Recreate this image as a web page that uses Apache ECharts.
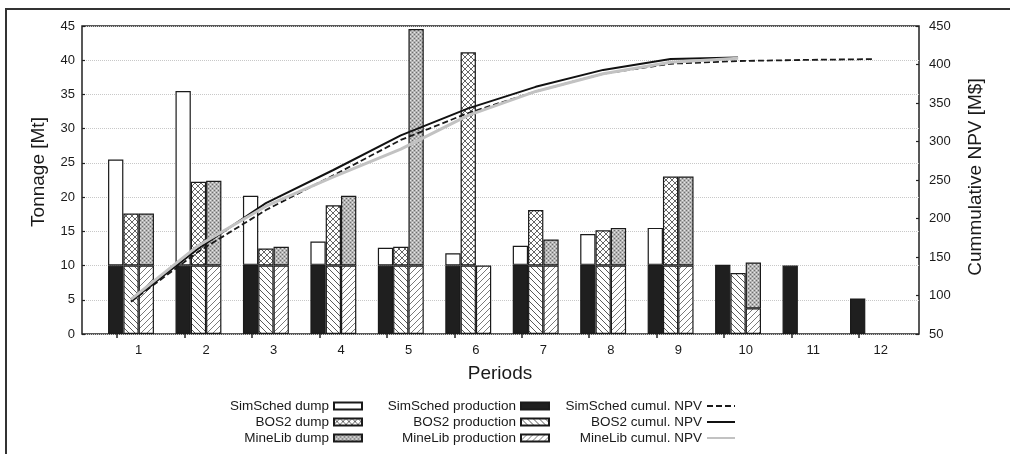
<!DOCTYPE html>
<html>
<head>
<meta charset="utf-8">
<script src="https://cdn.jsdelivr.net/npm/echarts@6/dist/echarts.min.js"></script>
<style>
html,body{margin:0;padding:0;background:#fff;}
#chart{width:1010px;height:454px;}
</style>
</head>
<body>
<div id="chart"></div>
<script>
// ---- data ----
var periods = ['1','2','3','4','5','6','7','8','9','10','11','12'];
var simProd  = [10, 10, 10.1, 10.1, 10, 10, 10.1, 10.1, 10.1, 10.1, 10, 5.2];
var simDump  = [15.5, 25.5, 10.1, 3.4, 2.6, 1.8, 2.8, 4.5, 5.4, null, null, null];
var bosProd  = [10, 10, 10, 10, 10, 10, 10, 10, 10, 8.9, null, null];
var bosDump  = [7.6, 12.25, 2.5, 8.8, 2.75, 31.15, 8.1, 5.15, 13.0, null, null, null];
var mineProd = [10, 10, 10, 10, 10, 10, 10, 10, 10, 3.75, null, null];
var mineDump = [7.6, 12.4, 2.75, 10.2, 34.55, null, 3.8, 5.5, 13.0, 6.7, null, null];
var simNPV   = [92, 157, 211, 256, 302, 337, 365, 388, 401, 404.5, 406, 407];
var bosNPV   = [93, 161, 220, 263, 308, 343, 371, 393, 407, 409, null, null];
var mineNPV  = [95, 165, 216, 254, 290, 334, 365, 388, 403, 408, null, null];
var tonTicks = {min: 0, max: 45, interval: 5};
var npvTicks = {min: 50, max: 450, interval: 50};

// ---- patterns ----
function tile(size, draw) {
  var c = document.createElement('canvas');
  c.width = size; c.height = size;
  var g = c.getContext('2d');
  draw(g, size);
  return {image: c, repeat: 'repeat'};
}
var crossHatch = tile(6, function (g, s) {
  g.fillStyle = '#fff'; g.fillRect(0, 0, s, s);
  g.strokeStyle = '#555'; g.lineWidth = 0.9;
  g.beginPath();
  g.moveTo(-1, -1); g.lineTo(s + 1, s + 1);
  g.moveTo(s + 1, -1); g.lineTo(-1, s + 1);
  g.stroke();
});
var dotted = tile(4, function (g, s) {
  g.fillStyle = '#b4b4b4'; g.fillRect(0, 0, s, s);
  g.fillStyle = '#6e6e6e';
  g.fillRect(0, 0, 1, 1); g.fillRect(2, 2, 1, 1);
  g.fillStyle = '#e6e6e6';
  g.fillRect(2, 0, 1, 1); g.fillRect(0, 2, 1, 1);
});
var backslash = tile(6, function (g, s) {
  g.fillStyle = '#fff'; g.fillRect(0, 0, s, s);
  g.strokeStyle = '#5a5a5a'; g.lineWidth = 1;
  g.beginPath();
  g.moveTo(-1, -1); g.lineTo(s + 1, s + 1);
  g.moveTo(-1, s - 1); g.lineTo(1, s + 1);
  g.moveTo(s - 1, -1); g.lineTo(s + 1, 1);
  g.stroke();
});
var slash = tile(6, function (g, s) {
  g.fillStyle = '#fff'; g.fillRect(0, 0, s, s);
  g.strokeStyle = '#7a7a7a'; g.lineWidth = 1;
  g.beginPath();
  g.moveTo(-1, s + 1); g.lineTo(s + 1, -1);
  g.moveTo(-1, 1); g.lineTo(1, -1);
  g.moveTo(s - 1, s + 1); g.lineTo(s + 1, s - 1);
  g.stroke();
});

var FONT = "'Liberation Sans', Arial, sans-serif";
var BORDER = {borderColor: '#1a1a1a', borderWidth: 1.2};
var BAND = 67.45;

function bar(name, stack, data, color) {
  return {
    name: name, type: 'bar', stack: stack, data: data,
    xAxisIndex: 1, yAxisIndex: 2, barWidth: 15.3, barGap: '0%',
    itemStyle: Object.assign({color: color}, BORDER)
  };
}
function line(name, data, style) {
  return {
    name: name, type: 'line', data: data, xAxisIndex: 1, yAxisIndex: 3,
    symbol: 'none', z: 5, lineStyle: style, itemStyle: {color: style.color}
  };
}

var chart = echarts.init(document.getElementById('chart'), null, {renderer: 'canvas'});
var legendBase = {
  orient: 'vertical', align: 'right', top: 399, padding: 0,
  itemWidth: 28, itemHeight: 7, itemGap: 2,
  textStyle: {fontFamily: FONT, fontSize: 13.5, color: '#1a1a1a', lineHeight: 13}
};
chart.setOption({
  animation: false,
  backgroundColor: '#fff',
  textStyle: {fontFamily: FONT},
  grid: [
    {left: 82, top: 26, width: 837, height: 308, show: true, borderColor: '#222', borderWidth: 1.5, backgroundColor: 'transparent'},
    {left: 131 - BAND / 2, top: 26, width: BAND * 12, height: 308},
    {left: 138.7 - BAND / 2, top: 26, width: BAND * 12, height: 308},
    {left: 117, top: 26, width: BAND * 11, height: 308}
  ],
  xAxis: [
    {gridIndex: 0, type: 'value', show: false},
    {gridIndex: 1, type: 'category', data: periods, show: false},
    {gridIndex: 2, type: 'category', data: periods, position: 'bottom',
      axisLine: {show: false}, axisTick: {show: false},
      axisLabel: {interval: 0, margin: 10, fontSize: 13, color: '#1a1a1a', fontFamily: FONT}},
    {gridIndex: 3, type: 'category', data: periods, position: 'top', boundaryGap: false,
      axisLine: {show: false}, axisLabel: {show: false, interval: 0},
      axisTick: {show: true, inside: true, length: 4, interval: 0, lineStyle: {color: '#222', width: 1.5}}}
  ],
  yAxis: [
    {gridIndex: 0, type: 'value', position: 'left', min: tonTicks.min, max: tonTicks.max, interval: tonTicks.interval,
      axisLine: {show: false},
      axisTick: {show: true, inside: true, length: 3, lineStyle: {color: '#222', width: 1.2}},
      axisLabel: {margin: 7, fontSize: 13, color: '#1a1a1a', fontFamily: FONT},
      splitLine: {show: true, lineStyle: {color: '#c8c8c8', type: 'dotted', width: 1}}},
    {gridIndex: 0, type: 'value', position: 'right', min: npvTicks.min, max: npvTicks.max, interval: npvTicks.interval,
      axisLine: {show: false},
      axisTick: {show: true, inside: true, length: 3, lineStyle: {color: '#222', width: 1.2}},
      axisLabel: {margin: 10, fontSize: 13, color: '#1a1a1a', fontFamily: FONT},
      splitLine: {show: false}},
    {gridIndex: 1, type: 'value', min: tonTicks.min, max: tonTicks.max, show: false, splitLine: {show: false}},
    {gridIndex: 1, type: 'value', min: npvTicks.min, max: npvTicks.max, show: false, splitLine: {show: false}},
    {gridIndex: 2, type: 'value', show: false, splitLine: {show: false}},
    {gridIndex: 3, type: 'value', show: false, splitLine: {show: false}}
  ],
  legend: [
    Object.assign({}, legendBase, {right: 647, icon: 'rect', data: ['SimSched dump', 'BOS2 dump', 'MineLib dump']}),
    Object.assign({}, legendBase, {right: 460, icon: 'rect', data: ['SimSched production', 'BOS2 production', 'MineLib production']}),
    Object.assign({}, legendBase, {right: 274, itemStyle: {opacity: 0},
      data: ['SimSched cumul. NPV', 'BOS2 cumul. NPV', 'MineLib cumul. NPV']})
  ],
  graphic: [
    {type: 'rect', z: -10, shape: {x: 6, y: 9, width: 1200, height: 700}, style: {fill: 'none', stroke: '#333', lineWidth: 2}},
    {type: 'text', x: 39, y: 172, rotation: Math.PI / 2, style: {text: 'Tonnage [Mt]', font: '19px ' + FONT, fill: '#1a1a1a', textAlign: 'center', textVerticalAlign: 'middle'}},
    {type: 'text', x: 976, y: 177, rotation: Math.PI / 2, style: {text: 'Cummulative NPV [M$]', font: '19px ' + FONT, fill: '#1a1a1a', textAlign: 'center', textVerticalAlign: 'middle'}},
    {type: 'text', x: 500, y: 374, style: {text: 'Periods', font: '19px ' + FONT, fill: '#1a1a1a', textAlign: 'center', textVerticalAlign: 'middle'}}
  ],
  series: [
    bar('SimSched production', 'sim', simProd, '#1f1f1f'),
    bar('SimSched dump', 'sim', simDump, '#ffffff'),
    bar('BOS2 production', 'bos', bosProd, backslash),
    bar('BOS2 dump', 'bos', bosDump, crossHatch),
    bar('MineLib production', 'mine', mineProd, slash),
    bar('MineLib dump', 'mine', mineDump, dotted),
    line('SimSched cumul. NPV', simNPV, {color: '#1a1a1a', width: 1.8, type: [6, 3]}),
    line('BOS2 cumul. NPV', bosNPV, {color: '#111111', width: 2}),
    line('MineLib cumul. NPV', mineNPV, {color: '#c2c2c2', width: 3})
  ]
});
</script>
</body>
</html>
